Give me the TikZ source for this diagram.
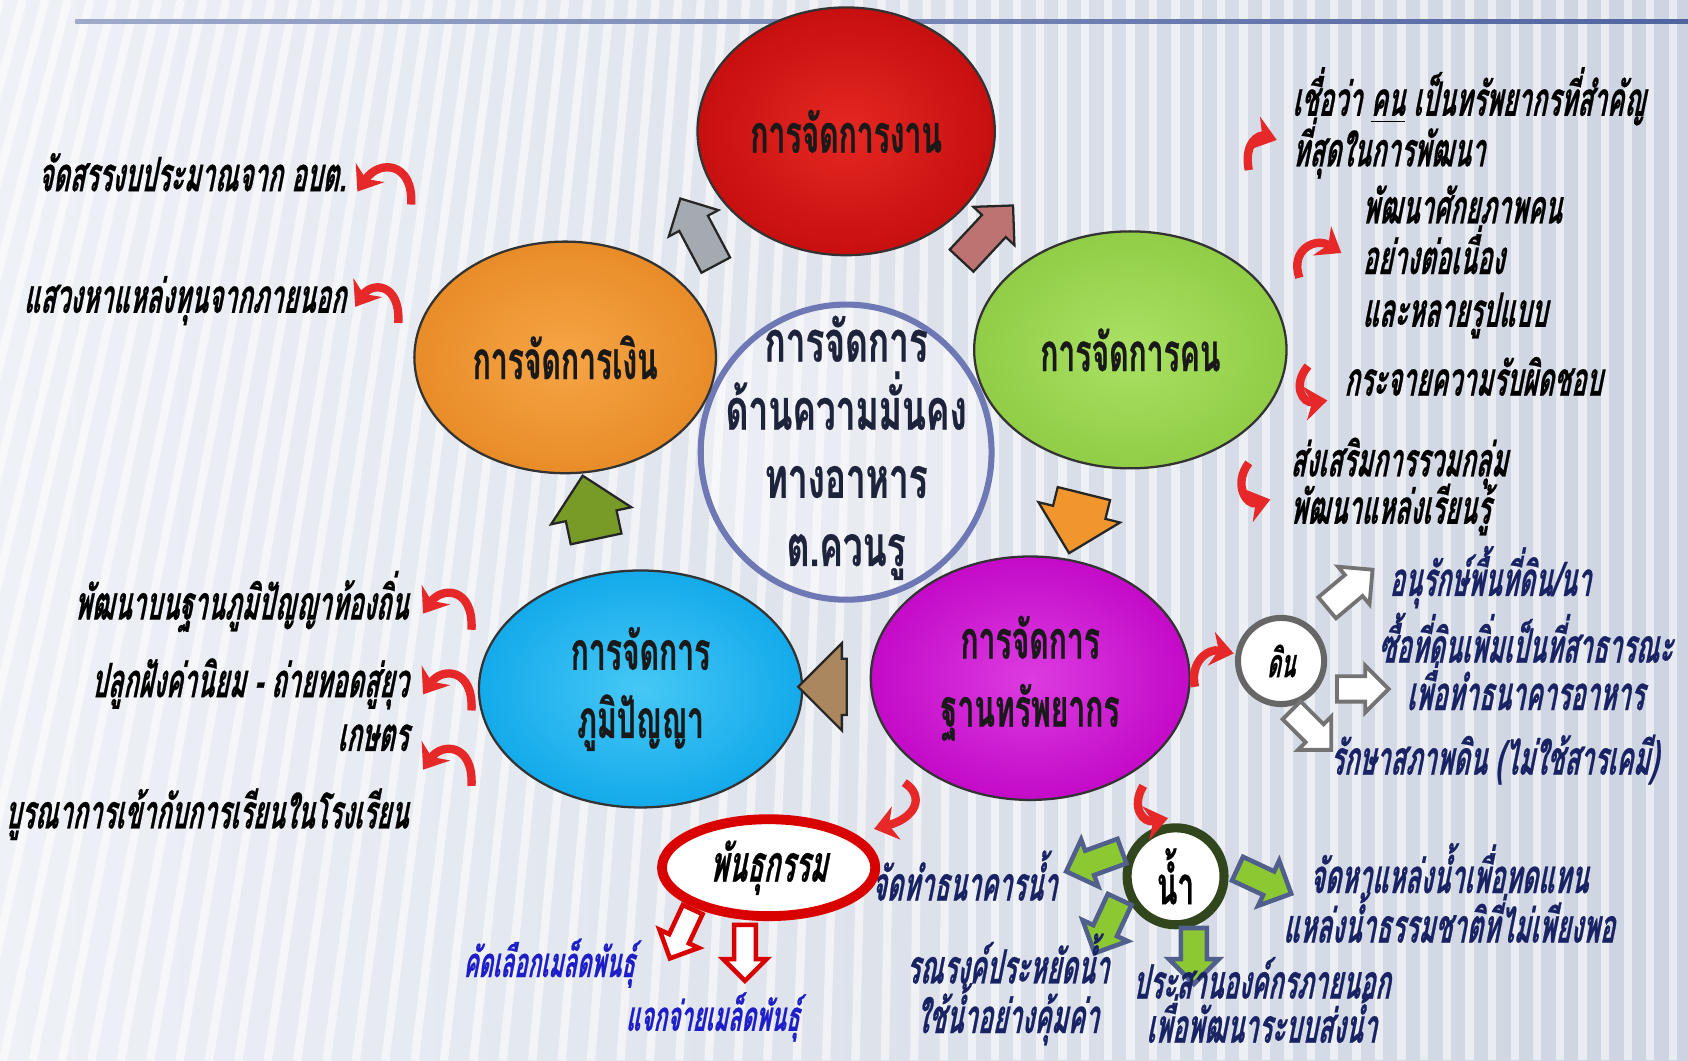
\documentclass[tikz,border=0pt]{standalone}
\usepackage{fontspec}
\usetikzlibrary{shapes.geometric,shapes.arrows,arrows.meta}
\newfontfamily\thlab[Script=Thai,FakeStretch=0.535,FakeSlant=0.2,FakeBold=0.5]{Loma}
\newfontfamily\thup[Script=Thai,FakeStretch=0.567,FakeBold=0.5]{Loma}
\newfontfamily\thcen[Script=Thai,FakeStretch=0.62,FakeBold=0.4]{Loma}
\definecolor{bgA}{RGB}{238,241,246}
\definecolor{bgB}{RGB}{205,212,225}
\definecolor{topline}{RGB}{80,100,160}
\definecolor{cRed}{RGB}{200,15,15}
\definecolor{cRedL}{RGB}{228,40,35}
\definecolor{cOra}{RGB}{232,140,40}
\definecolor{cOraL}{RGB}{246,165,70}
\definecolor{cGre}{RGB}{145,205,70}
\definecolor{cGreL}{RGB}{170,225,100}
\definecolor{cMag}{RGB}{195,10,200}
\definecolor{cMagL}{RGB}{220,60,225}
\definecolor{cCya}{RGB}{20,170,235}
\definecolor{cCyaL}{RGB}{70,200,245}
\definecolor{cenLine}{RGB}{110,120,180}
\definecolor{cenText}{RGB}{30,35,60}
\definecolor{navy}{RGB}{25,35,100}
\definecolor{seedblue}{RGB}{30,30,200}
\definecolor{swooshred}{RGB}{230,40,40}
\definecolor{aGray}{RGB}{165,170,176}
\definecolor{aPink}{RGB}{190,115,115}
\definecolor{aOra}{RGB}{240,150,45}
\definecolor{aBrown}{RGB}{170,135,95}
\definecolor{aGreen}{RGB}{120,155,40}
\definecolor{wGreen}{RGB}{140,200,50}
\definecolor{wEdge}{RGB}{80,95,140}
\definecolor{nameEdge}{RGB}{50,70,30}
\tikzset{
  lab/.style={font=\thlab\bfseries\fontsize{12.5}{14}\selectfont, text=black, inner sep=0pt},
  navylab/.style={lab, text=navy},
  seedlab/.style={font=\thlab\bfseries\fontsize{11}{12}\selectfont, text=seedblue, inner sep=0pt},
  circ/.style={ellipse, draw=black!80, line width=0.6pt, inner sep=0pt,
     font=\thup\bfseries\fontsize{14}{18}\selectfont, text=black!90},
  blk/.style={single arrow, draw=black!85, line width=0.6pt, inner xsep=0pt},
  soilarr/.style={single arrow, draw=black!55, fill=white, line width=1pt, inner xsep=0pt},
  waterarr/.style={single arrow, draw=wEdge, fill=wGreen, line width=1.2pt, inner xsep=0pt},
  seedarr/.style={single arrow, draw=red!85!black, fill=white, line width=1.2pt, inner xsep=0pt},
  swoosh/.style={draw=swooshred, line width=2.2pt, -{Stealth[length=6pt,width=9pt]}},
}
\begin{document}
\begin{tikzpicture}[x=0.01cm,y=-0.01cm]
\useasboundingbox (0,0) rectangle (1568,985);
% background
\shade[left color=bgA, right color=bgB] (0,0) rectangle (1568,985);
\foreach \t in {-10,...,80}{
  \pgfmathsetmacro{\xt}{\t*21}
  \pgfmathsetmacro{\xb}{\xt-0.3*max(0,900-\xt)}
  \draw[white, opacity=0.55, line width=2.2pt] (\xt,0) -- (\xb,985);
}
\shade[left color=topline!55, right color=topline] (70,18.5) rectangle (1568,21.5);

% central circle (behind)
\node[ellipse, draw=cenLine, line width=1.6pt, fill=white, fill opacity=0.35,
      minimum width=2.70cm, minimum height=2.74cm, inner sep=0pt] (center) at (786,420) {};

% main circles
\node[circ, minimum width=2.76cm, minimum height=2.30cm, inner color=cRedL, outer color=cRed] (work) at (786,122) {การจัดการงาน};
\node[circ, minimum width=2.80cm, minimum height=2.15cm, inner color=cOraL, outer color=cOra] (money) at (525,332) {การจัดการเงิน};
\node[circ, minimum width=2.90cm, minimum height=2.20cm, inner color=cGreL, outer color=cGre] (people) at (1050,325) {การจัดการคน};
\node[circ, minimum width=2.96cm, minimum height=2.26cm, inner color=cMagL, outer color=cMag, align=center] (resource) at (957,630) {การจัดการ\\ฐานทรัพยากร};
\node[circ, minimum width=3.00cm, minimum height=2.20cm, inner color=cCyaL, outer color=cCya, align=center] (wisdom) at (595,640) {การจัดการ\\ภูมิปัญญา};

\node[align=center, inner sep=0pt, font=\thcen\bfseries\fontsize{15}{18}\selectfont, text=cenText] (centertext) at (786,416)
      {การจัดการ\\ด้านความมั่นคง\\ทางอาหาร\\ต.ควนรู};

% cycle block arrows
\node[blk, fill=aGray, minimum height=0.70cm, inner ysep=0.14cm, single arrow head extend=0.11cm, rotate=118] (a1) at (652,222) {};
\node[blk, fill=aPink, minimum height=0.70cm, inner ysep=0.14cm, single arrow head extend=0.11cm, rotate=47] (a2) at (912,222) {};
\node[blk, fill=aOra, minimum height=0.57cm, inner ysep=0.24cm, single arrow head extend=0.14cm, rotate=-104] (a3) at (1003,474) {};
\node[blk, fill=aBrown, minimum height=0.45cm, inner ysep=0.25cm, single arrow head extend=0.145cm, rotate=180] (a4) at (777,638) {};
\node[blk, fill=aGreen, minimum height=0.60cm, inner ysep=0.23cm, single arrow head extend=0.14cm, rotate=102] (a5) at (550,483) {};

% left labels (money)
\node[lab, anchor=mid east] (m1) at (322,170) {จัดสรรงบประมาณจาก อบต.};
\node[lab, anchor=mid east] (m2) at (322,283) {แสวงหาแหล่งทุนจากภายนอก};
\coordinate (m1t) at (382,190); \coordinate (m1h) at (332,178);
\coordinate (m2t) at (370,300); \coordinate (m2h) at (330,285);
\draw[swoosh] (m1t) .. controls (384,150) and (352,148) .. (m1h);
\draw[swoosh] (m2t) .. controls (372,262) and (345,262) .. (m2h);

% left labels (wisdom)
\node[lab, anchor=mid east] (w1) at (380,568) {พัฒนาบนฐานภูมิปัญญาท้องถิ่น};
\node[lab, anchor=mid east] (w2) at (380,640) {ปลูกฝังค่านิยม - ถ่ายทอดสู่ยุว};
\node[lab, anchor=mid east] (w3) at (380,690) {เกษตร};
\node[lab, anchor=mid east] (w4) at (380,762) {บูรณาการเข้ากับการเรียนในโรงเรียน};
\coordinate (w1t) at (438,585); \coordinate (w1h) at (393,570);
\coordinate (w2t) at (438,660); \coordinate (w2h) at (393,645);
\coordinate (w3t) at (438,730); \coordinate (w3h) at (393,715);
\draw[swoosh] (w1t) .. controls (440,545) and (410,545) .. (w1h);
\draw[swoosh] (w2t) .. controls (440,620) and (410,620) .. (w2h);
\draw[swoosh] (w3t) .. controls (440,690) and (410,690) .. (w3h);

% right labels (people)
\node[lab, anchor=mid west] (p1) at (1200,100) {เชื่อว่า \underline{คน} เป็นทรัพยากรที่สำคัญ};
\node[lab, anchor=mid west] (p2) at (1200,147) {ที่สุดในการพัฒนา};
\node[lab, anchor=mid west] (p3) at (1265,200) {พัฒนาศักยภาพคน};
\node[lab, anchor=mid west] (p4) at (1265,247) {อย่างต่อเนื่อง};
\node[lab, anchor=mid west] (p5) at (1265,296) {และหลายรูปแบบ};
\node[lab, anchor=mid west] (p6) at (1248,360) {กระจายความรับผิดชอบ};
\node[lab, anchor=mid west] (p7) at (1198,435) {ส่งเสริมการรวมกลุ่ม};
\node[lab, anchor=mid west] (p8) at (1198,479) {พัฒนาแหล่งเรียนรู้};
\coordinate (p1t) at (1160,158); \coordinate (p1h) at (1186,130);
\coordinate (p3t) at (1207,258); \coordinate (p3h) at (1246,235);
\coordinate (p6t) at (1215,340); \coordinate (p6h) at (1233,372);
\coordinate (p7t) at (1160,430); \coordinate (p7h) at (1180,464);
\draw[swoosh] (p1t) .. controls (1155,132) and (1170,125) .. (p1h);
\draw[swoosh] (p3t) .. controls (1198,232) and (1222,220) .. (p3h);
\draw[swoosh] (p6t) .. controls (1200,358) and (1210,375) .. (p6h);
\draw[swoosh] (p7t) .. controls (1145,450) and (1158,470) .. (p7h);

% soil
\node[circle, draw=black!60, fill=white, line width=1.6pt, minimum size=0.80cm, inner sep=0pt,
      font=\thlab\bfseries\fontsize{10.5}{12}\selectfont] (soil) at (1190,614) {ดิน};
\coordinate (s0t) at (1110,638); \coordinate (s0h) at (1146,607);
\draw[swoosh] (s0t) .. controls (1105,615) and (1122,602) .. (s0h);
\node[soilarr, minimum height=0.55cm, inner ysep=0.11cm, single arrow head extend=0.10cm, rotate=40] (sa1) at (1249,551) {};
\node[soilarr, minimum height=0.48cm, inner ysep=0.10cm, single arrow head extend=0.10cm, rotate=0] (sa2) at (1260,640) {};
\node[soilarr, minimum height=0.52cm, inner ysep=0.10cm, single arrow head extend=0.10cm, rotate=-45] (sa3) at (1214,674) {};
\node[navylab, anchor=mid west] (s1) at (1290,546) {อนุรักษ์พื้นที่ดิน/นา};
\node[navylab, anchor=mid] (s2) at (1417,608) {ซื้อที่ดินเพิ่มเป็นที่สาธารณะ};
\node[navylab, anchor=mid] (s3) at (1417,652) {เพื่อทำธนาคารอาหาร};
\node[navylab, anchor=mid west] (s4) at (1235,712) {รักษาสภาพดิน (ไม่ใช้สารเคมี)};

% water
\node[circle, draw=nameEdge, fill=white, line width=2.4pt, minimum size=0.90cm, inner sep=0pt,
      font=\thup\bfseries\fontsize{14}{15}\selectfont] (water) at (1092,814) {น้ำ};
\coordinate (r0t) at (1062,730); \coordinate (r0h) at (1085,760);
\draw[swoosh] (r0t) .. controls (1050,750) and (1062,765) .. (r0h);
\node[waterarr, minimum height=0.55cm, inner ysep=0.10cm, single arrow head extend=0.11cm, rotate=200] (wa1) at (1022,798) {};
\node[waterarr, minimum height=0.55cm, inner ysep=0.10cm, single arrow head extend=0.11cm, rotate=245] (wa2) at (1031,855) {};
\node[waterarr, minimum height=0.52cm, inner ysep=0.10cm, single arrow head extend=0.11cm, rotate=270] (wa3) at (1109,882) {};
\node[waterarr, minimum height=0.55cm, inner ysep=0.10cm, single arrow head extend=0.11cm, rotate=-25] (wa4) at (1169,816) {};
\node[navylab, anchor=mid west] (r1) at (809,829) {จัดทำธนาคารน้ำ};
\node[navylab, anchor=mid] (r2) at (936,906) {รณรงค์ประหยัดน้ำ};
\node[navylab, anchor=mid] (r3) at (936,952) {ใช้น้ำอย่างคุ้มค่า};
\node[navylab, anchor=mid] (r4) at (1172,920) {ประสานองค์กรภายนอก};
\node[navylab, anchor=mid] (r5) at (1172,961) {เพื่อพัฒนาระบบส่งน้ำ};
\node[navylab, anchor=mid] (r6) at (1346,822) {จัดหาแหล่งน้ำเพื่อทดแทน};
\node[navylab, anchor=mid] (r7) at (1346,868) {แหล่งน้ำธรรมชาติที่ไม่เพียงพอ};

% seed
\node[ellipse, draw=red!85!black, fill=white, line width=2.6pt, minimum width=1.98cm, minimum height=0.90cm, inner sep=0pt,
      font=\thlab\bfseries\fontsize{13.5}{15}\selectfont] (seed) at (714,806) {พันธุกรรม};
\coordinate (g0t) at (840,727); \coordinate (g0h) at (812,770);
\draw[swoosh] (g0t) .. controls (860,740) and (850,760) .. (g0h);
\node[seedarr, minimum height=0.50cm, inner ysep=0.08cm, single arrow head extend=0.10cm, rotate=245] (ga1) at (635,863) {};
\node[seedarr, minimum height=0.52cm, inner ysep=0.08cm, single arrow head extend=0.10cm, rotate=270] (ga2) at (692,880) {};
\node[seedlab, anchor=mid] (g1) at (510,900) {คัดเลือกเมล็ดพันธุ์};
\node[seedlab, anchor=mid] (g2) at (662,950) {แจกจ่ายเมล็ดพันธุ์};
\end{tikzpicture}
\end{document}
